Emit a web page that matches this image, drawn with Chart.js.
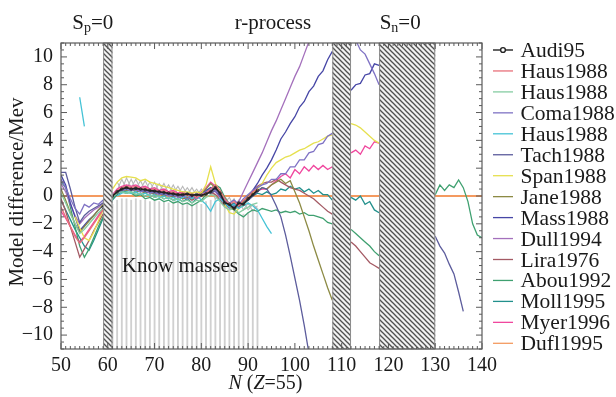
<!DOCTYPE html>
<html>
<head>
<meta charset="utf-8">
<script src="https://cdn.jsdelivr.net/npm/chart.js@4.4.1/dist/chart.umd.min.js"></script>
<style>
  html, body { margin: 0; padding: 0; background: #fff; }
</style>
</head>
<body>
<canvas id="massChart" width="616" height="397"></canvas>
<script>
// Neutron number grid, N = 50 ... 140 (index 0 is N = 50)
const neutronN = [
  50, 51, 52, 53, 54, 55, 56, 57, 58, 59,
  60, 61, 62, 63, 64, 65, 66, 67, 68, 69,
  70, 71, 72, 73, 74, 75, 76, 77, 78, 79,
  80, 81, 82, 83, 84, 85, 86, 87, 88, 89,
  90, 91, 92, 93, 94, 95, 96, 97, 98, 99,
  100, 101, 102, 103, 104, 105, 106, 107, 108, 109,
  110, 111, 112, 113, 114, 115, 116, 117, 118, 119,
  120, 121, 122, 123, 124, 125, 126, 127, 128, 129,
  130, 131, 132, 133, 134, 135, 136, 137, 138, 139,
  140
];

const xTickValues = [50, 60, 70, 80, 90, 100, 110, 120, 130, 140];
const yTickValues = [-10, -8, -6, -4, -2, 0, 2, 4, 6, 8, 10];

// hatched regions (N from, N to)
const maskedBands = [[59, 61], [108, 112], [118, 130]];

// model - experiment differences (MeV), rows of ten starting at N = 50
const audi95 = [
  null, null, null, null, null, null, null, null, null, -0.8,
  -0.4, 0.0, 0.3, 0.5, 0.6, 0.5, 0.55, 0.5, 0.45, 0.4,
  0.35, 0.3, 0.25, 0.2, 0.15, 0.1, 0.1, 0.15, 0.05, 0.1,
  0.05, 0.15, 0.3, 0.6, 0.2, -0.5, -0.6, -0.9, -0.5, -0.6,
  -0.2, 0.1, 0.4
];
const haus1988a = [
  -0.8, -1.5, -2.2, -2.9, -3.4, -3.0, -2.5, -2.0, -1.5, -1.0,
  -0.5, 0.0, 0.4, 0.6, 0.7, 0.6, 0.7, 0.5, 0.6, 0.4,
  0.5, 0.3, 0.4, 0.2, 0.3, 0.1, 0.2, 0.0, 0.1, -0.1,
  0.1, 0.2, 0.5, 0.8, 0.4, -0.2, -0.6, -0.4, -0.7, -0.3,
  -0.1, 0.3, 0.5
];
const haus1988b = [
  0.2, -0.5, -1.3, -2.0, -2.7, -2.4, -2.0, -1.6, -1.2, -0.9,
  -0.5, -0.1, 0.2, 0.3, 0.2, 0.3, 0.1, 0.2, 0.0, 0.1,
  -0.1, 0.0, -0.2, -0.1, -0.3, -0.2, -0.4, -0.3, -0.5, -0.3,
  -0.4, -0.1, 0.1, 0.0, -0.4, -0.8, -1.0, -0.9, -1.2, -1.0,
  -0.8, -0.6, -0.5
];
const coma1988 = [
  1.2, 0.6, -0.2, -0.9, -1.3, -0.6, -0.8, -0.5, -0.6, -0.3,
  -0.2, 0.1, 0.3, 0.4, 0.5, 0.4, 0.5, 0.3, 0.4, 0.2,
  0.3, 0.1, 0.2, 0.0, 0.1, -0.1, 0.0, -0.2, 0.0, -0.1,
  0.1, 0.3, 0.5, 0.4, 0.1, -0.3, -0.5, -0.3, -0.6, -0.2,
  0.1, 0.4, 0.6, 0.8, 0.9, 1.2, 1.2, 1.6, 1.6, 2.1,
  2.1, 2.6, 2.6, 3.1, 3.2, 3.7, 3.8, 4.3, 4.5, null,
  null, null, null, 11.2, 10.5, 10.2, 9.5, 8.8, 8.0
];
const haus1988c = [
  null, null, null, null, 7.1, 5.0, null, null, null, null,
  null, null, 0.0, 0.2, 0.3, 0.2, 0.3, 0.1, 0.2, 0.0,
  0.1, -0.1, 0.0, -0.2, -0.1, -0.3, -0.1, 0.0, -0.2, 0.1,
  -0.3, -0.6, -1.1, -0.4, -0.2, -0.5, -0.8, -0.6, -0.9, -0.7,
  -0.5, -0.7, -1.0, -1.6, -2.2, -2.7
];
const tach1988 = [
  1.7, 1.7, 0.5, -0.8, -1.9, -1.4, -1.1, -0.9, -0.7, -0.5,
  -0.3, 0.0, 0.2, 0.4, 0.5, 0.4, 0.5, 0.4, 0.3, 0.3,
  0.2, 0.2, 0.1, 0.1, 0.0, 0.1, 0.0, 0.1, -0.1, 0.0,
  0.1, 0.3, 0.2, 0.4, 0.0, -0.4, -0.7, -0.8, -0.8, -0.5,
  -0.3, 0.0, 0.3, 0.6, 0.5, 0.0, -0.7, -1.5, -2.8, -4.3,
  -5.9, -7.5, -9.3, -11.3, null, null, null, null, null, null,
  null, null, null, null, null, null, null, null, null, null,
  null, null, null, null, null, null, null, null, null, null,
  -2.9, -3.6, -4.1, -4.9, -5.6, -6.9, -8.3
];
const span1988 = [
  null, null, null, -1.5, -2.3, -3.0, -3.2, -2.6, -1.8, -1.0,
  -0.2, 0.5, 1.0, 1.3, 1.4, 1.35, 1.3, 1.1, 1.2, 1.0,
  0.9, 0.8, 0.7, 0.6, 0.5, 0.4, 0.3, 0.3, 0.2, 0.3,
  0.2, 0.8, 2.1, 0.9, 0.3, -0.6, -1.2, -1.3, -0.9, -0.6,
  -0.2, 0.2, 0.5, 0.9, 1.5, 2.0, 2.4, 2.6, 2.8, 2.9,
  3.1, 3.3, 3.4, 3.6, 3.8, 3.9, 4.1, 4.3, 4.4, null,
  null, null, 5.2, 5.1, 4.9, 4.6, 4.3, 4.0, 3.8
];
const jane1988 = [
  0.5, -0.3, -1.2, -2.0, -2.6, -2.2, -1.8, -1.4, -1.0, -0.6,
  -0.3, 0.1, 0.3, 0.5, 0.4, 0.5, 0.3, 0.4, 0.2, 0.3,
  0.1, 0.2, 0.0, 0.1, -0.1, 0.0, -0.2, -0.1, -0.2, 0.0,
  0.2, 0.5, 0.9, 0.6, 0.2, -0.3, -0.8, -1.0, -0.7, -0.4,
  0.0, 0.3, 0.4, 0.6, 0.5, 0.8, 1.0, 1.2, 0.9, 1.1,
  0.3, -0.5, -1.5, -2.5, -3.6, -4.6, -5.6, -6.6, -7.5
];
const mass1988 = [
  1.5, 0.8, -0.5, -1.5, -2.5, -2.1, -1.7, -1.4, -1.0, -0.7,
  -0.4, 0.0, 0.3, 0.5, 0.6, 0.5, 0.6, 0.4, 0.5, 0.3,
  0.4, 0.2, 0.3, 0.1, 0.2, 0.0, 0.1, -0.1, 0.1, 0.0,
  0.2, 0.4, 0.6, 0.5, 0.0, -0.5, -0.8, -0.6, -0.9, -0.5,
  -0.1, 0.4, 0.9, 1.5, 2.0, 2.6, 3.3, 4.1, 4.6, 5.2,
  5.7, 6.4, 6.8, 7.5, 7.9, 8.6, 9.0, 9.8, 10.4, null,
  null, null, 7.6, 8.0, 8.1, 8.7, 8.8, 9.5, 9.4
];
const dull1994 = [
  0.9, 0.3, -0.6, -1.4, -2.0, -1.6, -1.3, -1.0, -0.8, -0.5,
  -0.2, 0.1, 0.3, 0.5, 0.4, 0.5, 0.4, 0.3, 0.4, 0.2,
  0.3, 0.1, 0.2, 0.0, 0.1, -0.1, 0.0, -0.2, -0.1, -0.2,
  0.0, 0.2, 0.4, 0.3, -0.1, -0.6, -0.9, -0.7, -0.4, 0.3,
  1.0, 1.7, 2.4, 3.1, 3.9, 4.7, 5.4, 6.2, 7.0, 7.8,
  8.6, 9.3, 10.2, 11.1
];
const lira1976 = [
  -0.2, -1.1, -2.2, -3.3, -4.4, -3.8, -3.2, -2.5, -1.9, -1.3,
  -0.7, -0.1, 0.3, 0.5, 0.4, 0.5, 0.3, 0.4, 0.2, 0.3,
  0.1, 0.2, 0.0, 0.1, -0.1, 0.0, -0.2, -0.1, -0.3, -0.1,
  0.0, 0.2, 0.3, 0.1, -0.3, -0.7, -0.8, -0.6, -0.8, -0.4,
  0.0, 0.4, 0.7, 0.9, 1.0, 1.0, 1.2, 1.0, 0.8, 0.6,
  0.5, 0.4, 0.2, 0.0, -0.2, -0.5, -0.8, -1.1, -1.3, null,
  null, null, -3.3, -3.6, -4.0, -4.4, -4.8, -5.0, -5.2
];
const abou1992 = [
  1.0, 0.6, -0.8, -2.2, -3.6, -4.4, -3.8, -3.0, -2.2, -1.5,
  -0.8, -0.2, 0.2, 0.4, 0.3, 0.2, 0.0, 0.1, -0.2, -0.1,
  -0.3, -0.2, -0.4, -0.3, -0.5, -0.4, -0.6, -0.5, -0.7, -0.5,
  -0.3, 0.1, 0.5, 0.8, 0.6, -0.1, -0.6, -1.0, -1.3, -1.5,
  -1.2, -1.0, -1.1, -0.9, -1.0, -1.1, -1.0, -1.2, -1.1, -1.2,
  -1.1, -1.3, -1.2, -1.4, -1.4, -1.5, -1.6, -1.9, -2.0, null,
  null, null, -2.4, -2.7, -3.0, -3.3, -3.6, -4.0, -4.3, null,
  null, null, null, null, null, null, null, null, null, null,
  0.1, 0.8, 0.4, 0.8, 0.6, 1.15, 0.6, -0.4, -2.0, -2.8,
  -3.0
];
const moll1995 = [
  -0.3, -1.0, -1.7, -2.4, -3.0, -3.6, -3.9, -3.2, -2.4, -1.6,
  -0.9, -0.3, 0.1, 0.3, 0.2, 0.3, 0.1, 0.2, 0.0, 0.1,
  -0.1, 0.0, -0.2, -0.1, -0.3, -0.2, -0.4, -0.2, -0.5, -0.2,
  0.0, 0.3, 0.6, 0.4, 0.0, -0.4, -0.7, -0.5, -0.8, -0.6,
  -0.3, 0.0, 0.2, 0.1, 0.3, 0.1, 0.2, 0.5, 0.4, 0.7,
  0.5, 0.6, 0.3, 0.5, 0.2, 0.4, 0.1, 0.1, -0.3, null,
  null, null, -0.1, -0.3, 0.0, -0.6, -0.4, -1.0, -1.2
];
const myer1996 = [
  -1.1, -1.6, -2.2, -2.8, -3.3, -2.9, -2.4, -1.9, -1.4, -0.9,
  -0.4, 0.1, 0.5, 0.7, 0.8, 0.7, 0.8, 0.6, 0.7, 0.5,
  0.6, 0.4, 0.5, 0.3, 0.4, 0.2, 0.3, 0.1, 0.2, 0.0,
  0.3, 0.6, 1.0, 0.7, 0.2, -0.3, -0.7, -0.5, -0.8, -0.4,
  -0.1, 0.2, 0.4, 0.5, 0.5, 0.8, 1.1, 1.4, 1.6, 1.3,
  1.9, 1.6, 2.1, 1.8, 2.2, 1.9, 2.2, 1.9, 2.1, null,
  null, null, 3.1, 3.3, 3.0, 3.6, 3.4, 3.9, 3.8
];
const duflN = [50, 140];
const dufl1995 = [0, 0];

// grey zig-zag on top of the known-mass region
const knownGreyA = [
  null, null, null, null, null, null, null, null, null, null,
  null, null, 0.4, 1.2, 0.5, 1.2, 0.5, 1.1, 0.4, 1.0,
  0.4, 0.9, 0.3, 0.8, 0.2, 0.7, 0.1, 0.6, 0.1, 0.5,
  0.0, 0.5, 0.1, 0.4, -0.3, 0.0, -0.6, -0.2, -0.9, -0.4,
  -1.0, -0.6, -0.9
];
const knownGreyB = [
  null, null, null, null, null, null, null, null, null, null,
  null, null, 1.0, 0.4, 1.3, 0.6, 1.2, 0.5, 1.1, 0.4,
  1.0, 0.3, 0.9, 0.2, 0.8, 0.1, 0.7, 0.1, 0.6, 0.0,
  0.5, 0.0, 0.4, -0.2, 0.1, -0.5, -0.1, -0.8, -0.3, -1.0,
  -0.5, -1.1, -0.7
];
// known masses: vertical lines from the bottom up to these values
const knownN = [
  61, 62, 63, 64, 65, 66, 67, 68, 69, 70, 71, 72, 73, 74, 75, 76,
  77, 78, 79, 80, 81, 82, 83, 84, 85, 86, 87, 88, 89, 90, 91, 92
];
const knownTop = [
  -0.6, -0.3, -0.2, -0.2, -0.3, -0.2, -0.3, -0.3, -0.4, -0.3, -0.4, -0.4, -0.5, -0.4, -0.5, -0.5,
  -0.5, -0.6, -0.5, -0.6, -0.4, -0.3, -0.2, -0.5, -0.8, -1.0, -1.1, -1.2, -1.3, -1.2, -1.0, -0.9
];

const seriesNames = ['Audi95', 'Haus1988', 'Haus1988', 'Coma1988', 'Haus1988', 'Tach1988', 'Span1988',
  'Jane1988', 'Mass1988', 'Dull1994', 'Lira1976', 'Abou1992', 'Moll1995', 'Myer1996', 'Dufl1995'];
const seriesColors = ['#222222', '#e8707a', '#86cca2', '#7f72c4', '#45c3d6', '#5c5c9c', '#e6e04e',
  '#8c8a44', '#4646a6', '#a470bc', '#a45a64', '#3fa070', '#22908c', '#f0479e', '#f49a60'];
const seriesData = [audi95, haus1988a, haus1988b, coma1988, haus1988c, tach1988, span1988,
  jane1988, mass1988, dull1994, lira1976, abou1992, moll1995, myer1996, dufl1995];

const serif = '"Liberation Serif", "Times New Roman", serif';

// turn a y array into points on the N grid
function toPoints(ys, ns) {
  const grid = ns || neutronN;
  return ys.map((y, i) => ({ x: grid[i], y: y }));
}

// hatch pattern for the masked bands
function makeHatch() {
  const s = 5;
  const c = document.createElement('canvas');
  c.width = s; c.height = s;
  const g = c.getContext('2d');
  g.fillStyle = '#f2f2f2';
  g.fillRect(0, 0, s, s);
  g.strokeStyle = '#505050';
  g.lineWidth = 1.3;
  [-s, 0, s].forEach(k => {
    g.beginPath();
    g.moveTo(-1, -1 + k);
    g.lineTo(s + 1, s + 1 + k);
    g.stroke();
  });
  return g.createPattern(c, 'repeat');
}

const datasets = seriesData.map((ys, i) => ({
  label: seriesNames[i],
  data: i === 14 ? toPoints(ys, duflN) : toPoints(ys),
  borderColor: seriesColors[i],
  backgroundColor: seriesColors[i],
  borderWidth: i === 0 ? 1.6 : (i === 14 ? 1.8 : 1.3),
  pointRadius: i === 0 ? 1.3 : 0,
  pointBackgroundColor: 'rgba(255,255,255,0)',
  pointBorderColor: '#222222',
  pointBorderWidth: 0.8,
  spanGaps: false,
  order: i === 0 ? 0 : 1
}));

datasets.push({
  label: 'known A',
  data: toPoints(knownGreyA),
  borderColor: '#b8b8b8',
  borderWidth: 1.1,
  pointRadius: 0,
  order: 5
});
datasets.push({
  label: 'known B',
  data: toPoints(knownGreyB),
  borderColor: '#b8b8b8',
  borderWidth: 1.1,
  pointRadius: 0,
  order: 5
});
datasets.push({
  type: 'bar',
  label: 'known masses',
  data: knownN.map((n, i) => ({ x: n, y: [-11, knownTop[i]] })),
  backgroundColor: '#d0d0d0',
  barThickness: 1.2,
  grouped: false,
  order: 10
});

// frame, inward ticks, hatched bands, labels and legend
const framePlugin = {
  id: 'framePlugin',
  afterDatasetsDraw(chart) {
    const { ctx, chartArea: a, scales: { x, y } } = chart;
    ctx.save();

    // hatched bands sit on top of the curves
    const hatch = makeHatch();
    maskedBands.forEach(([n0, n1]) => {
      const x0 = x.getPixelForValue(n0);
      const x1 = x.getPixelForValue(n1);
      ctx.fillStyle = hatch;
      ctx.fillRect(x0, a.top, x1 - x0, a.bottom - a.top);
      ctx.strokeStyle = '#8c8c8c';
      ctx.lineWidth = 1;
      ctx.strokeRect(x0 + 0.5, a.top, x1 - x0 - 1, a.bottom - a.top);
    });

    // box
    ctx.strokeStyle = '#5a5a5a';
    ctx.lineWidth = 1.2;
    ctx.strokeRect(a.left, a.top, a.right - a.left, a.bottom - a.top);

    // inward ticks on all four sides
    ctx.lineWidth = 1;
    ctx.beginPath();
    for (let n = 50; n <= 140; n++) {
      const px = x.getPixelForValue(n);
      const len = n % 10 === 0 ? 6 : 3;
      ctx.moveTo(px, a.bottom); ctx.lineTo(px, a.bottom - len);
      ctx.moveTo(px, a.top); ctx.lineTo(px, a.top + len);
    }
    for (let v = -11; v <= 11; v += 0.5) {
      const py = y.getPixelForValue(v);
      const len = v % 2 === 0 ? 6 : 3;
      ctx.moveTo(a.left, py); ctx.lineTo(a.left + len, py);
      ctx.moveTo(a.right, py); ctx.lineTo(a.right - len, py);
    }
    ctx.stroke();
    ctx.restore();
  },
  afterDraw(chart) {
    const { ctx, chartArea: a, scales: { x, y } } = chart;
    ctx.save();
    ctx.fillStyle = '#1a1a1a';
    ctx.textBaseline = 'alphabetic';

    // S_p=0 / S_n=0 with subscripts
    function subLabel(sub, n) {
      ctx.font = '21px ' + serif;
      const wS = ctx.measureText('S').width;
      const wEq = ctx.measureText('=0').width;
      ctx.font = '14px ' + serif;
      const wSub = ctx.measureText(sub).width;
      let left = x.getPixelForValue(n) - (wS + wSub + wEq) / 2;
      ctx.font = '21px ' + serif;
      ctx.fillText('S', left, 28.5);
      ctx.font = '14px ' + serif;
      ctx.fillText(sub, left + wS, 31.5);
      ctx.font = '21px ' + serif;
      ctx.fillText('=0', left + wS + wSub, 28.5);
    }
    subLabel('p', 56.8);
    subLabel('n', 122.5);

    ctx.font = '21px ' + serif;
    ctx.textAlign = 'center';
    ctx.fillText('r-process', x.getPixelForValue(95.3), 28.5);

    ctx.textAlign = 'left';
    ctx.fillText('Know masses', x.getPixelForValue(63), y.getPixelForValue(-5.45));

    // x axis title: N (Z=55)
    const parts = [['N', true], [' (', false], ['Z', true], ['=55)', false]];
    let total = 0;
    parts.forEach(([t, it]) => {
      ctx.font = (it ? 'italic ' : '') + '20px ' + serif;
      total += ctx.measureText(t).width;
    });
    let cx = (a.left + a.right) / 2 - 6 - total / 2;
    parts.forEach(([t, it]) => {
      ctx.font = (it ? 'italic ' : '') + '20px ' + serif;
      ctx.fillText(t, cx, 389);
      cx += ctx.measureText(t).width;
    });

    // y axis title
    ctx.save();
    ctx.translate(23, (a.top + a.bottom) / 2 - 4);
    ctx.rotate(-Math.PI / 2);
    ctx.textAlign = 'center';
    ctx.font = '21px ' + serif;
    ctx.fillText('Model difference/Mev', 0, 0);
    ctx.restore();

    // legend
    ctx.textAlign = 'left';
    seriesNames.forEach((name, i) => {
      const ly = 50 + i * 20.95;
      ctx.strokeStyle = seriesColors[i];
      ctx.lineWidth = i === 0 ? 1.4 : 1.3;
      ctx.beginPath();
      ctx.moveTo(493, ly);
      ctx.lineTo(513, ly);
      ctx.stroke();
      if (i === 0) {
        ctx.beginPath();
        ctx.arc(503, ly, 2.4, 0, Math.PI * 2);
        ctx.fillStyle = '#ffffff';
        ctx.fill();
        ctx.stroke();
      }
      ctx.fillStyle = '#1a1a1a';
      ctx.font = '21.5px ' + serif;
      ctx.fillText(name, 520.5, ly + 7);
    });
    ctx.restore();
  }
};

const ctx = document.getElementById('massChart').getContext('2d');

new Chart(ctx, {
  type: 'line',
  data: { datasets: datasets },
  options: {
    responsive: false,
    animation: false,
    layout: { padding: { left: 0, top: 43, right: 134, bottom: 0 } },
    plugins: {
      legend: { display: false },
      tooltip: { enabled: false }
    },
    scales: {
      x: {
        type: 'linear',
        min: 50,
        max: 140,
        offset: false,
        afterFit: s => { s.height = 48; },
        afterBuildTicks: s => { s.ticks = xTickValues.map(v => ({ value: v })); },
        grid: { display: false, drawTicks: false },
        border: { display: false },
        ticks: {
          color: '#1a1a1a',
          font: { family: serif, size: 20 },
          padding: 5,
          maxRotation: 0,
          autoSkip: false
        }
      },
      y: {
        type: 'linear',
        min: -11,
        max: 11,
        afterFit: s => { s.width = 61; },
        afterBuildTicks: s => { s.ticks = yTickValues.map(v => ({ value: v })); },
        grid: { display: false, drawTicks: false },
        border: { display: false },
        ticks: {
          color: '#1a1a1a',
          font: { family: serif, size: 20 },
          padding: 8,
          callback: v => (v < 0 ? '\u2212' + Math.abs(v) : String(v))
        }
      }
    }
  },
  plugins: [framePlugin]
});
</script>
</body>
</html>
